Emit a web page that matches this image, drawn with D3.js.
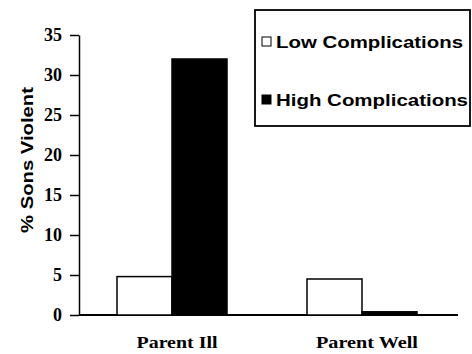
<!DOCTYPE html>
<html><head><meta charset="utf-8">
<script src="https://cdn.jsdelivr.net/npm/d3@7"></script>
<style>body{margin:0;background:#fff}</style>
</head><body>
<svg id="c" width="472" height="354"></svg>
<script>
const categories = ["Parent Ill", "Parent Well"];
const seriesNames = ["Low Complications", "High Complications"];
const lowValues = [4.8, 4.5];
const highValues = [32, 0.4];
const yTicks = [0, 5, 10, 15, 20, 25, 30, 35];
const colors = ["#fff", "#000"];

const svg = d3.select("#c");
const y = d3.scaleLinear().domain([0, 35]).range([315, 35]);
const x0 = d3.scaleBand().domain(categories).range([117, 417]).paddingInner(0.421).paddingOuter(0);
const x1 = d3.scaleBand().domain(seriesNames).range([0, x0.bandwidth()]);

// axes
const yAxis = d3.axisLeft(y).tickValues(yTicks).tickSize(9).tickSizeOuter(0);
const gy = svg.append("g").attr("transform", "translate(79,0)").call(yAxis);
gy.select(".domain").attr("stroke", "#000").attr("stroke-width", 1.5);
gy.selectAll(".tick line").attr("stroke-width", 1.5);
gy.selectAll(".tick text").attr("font-family", "Liberation Serif, Times New Roman, serif")
  .attr("font-weight", "bold").attr("font-size", 18).attr("fill", "#000").attr("x", -17);

svg.append("line").attr("x1", 79).attr("x2", 458).attr("y1", y(0)).attr("y2", y(0))
  .attr("stroke", "#000").attr("stroke-width", 1.8);

// bars
const data = categories.map((c, i) => ({c, vals: [lowValues[i], highValues[i]]}));
const g = svg.append("g").selectAll("g").data(data).join("g")
  .attr("transform", d => `translate(${x0(d.c)},0)`);
g.selectAll("rect").data(d => d.vals.map((v, j) => ({v, s: seriesNames[j], j})))
  .join("rect")
  .attr("x", d => x1(d.s)).attr("width", x1.bandwidth())
  .attr("y", d => y(d.v)).attr("height", d => y(0) - y(d.v))
  .attr("fill", d => colors[d.j]).attr("stroke", "#000").attr("stroke-width", 1.5);

// category labels
svg.append("g").selectAll("text").data(categories).join("text")
  .attr("x", d => x0(d) + x0.bandwidth() / 2 + 5).attr("y", 348)
  .attr("text-anchor", "middle")
  .attr("font-family", "Liberation Serif, Times New Roman, serif")
  .attr("font-weight", "bold").attr("font-size", 17)
  .attr("textLength", (d, i) => i === 0 ? 81 : 102).attr("lengthAdjust", "spacingAndGlyphs")
  .text(d => d);

// y title
svg.append("text").attr("transform", "translate(33,160) rotate(-90)")
  .attr("text-anchor", "middle").attr("font-family", "Liberation Sans, Arial, sans-serif")
  .attr("font-weight", "bold").attr("font-size", 16)
  .attr("textLength", 146).attr("lengthAdjust", "spacingAndGlyphs")
  .text("% Sons Violent");

// legend
const lg = svg.append("g");
lg.append("rect").attr("x", 255).attr("y", 10).attr("width", 215).attr("height", 116)
  .attr("fill", "#fff").attr("stroke", "#000").attr("stroke-width", 1.8);
const items = lg.selectAll("g").data(seriesNames).join("g")
  .attr("transform", (d, i) => `translate(0,${i === 0 ? 42 : 100})`);
items.append("rect").attr("x", 262).attr("y", -5).attr("width", 9).attr("height", 9)
  .attr("fill", (d, i) => colors[i]).attr("stroke", "#000").attr("stroke-width", 1);
items.append("text").attr("x", 276).attr("y", 5.5)
  .attr("font-family", "Liberation Sans, Arial, sans-serif")
  .attr("font-weight", "bold").attr("font-size", 16)
  .attr("textLength", (d, i) => i === 0 ? 187 : 192).attr("lengthAdjust", "spacingAndGlyphs")
  .text(d => d);
</script>
</body></html>
